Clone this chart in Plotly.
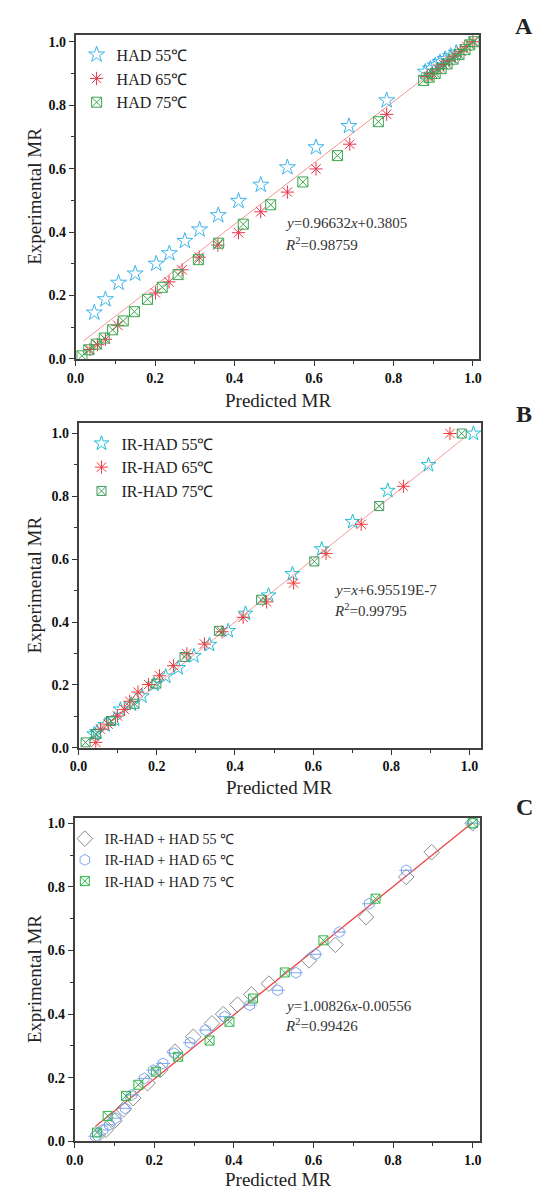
import plotly.graph_objects as go

# ---------------- Panel A (HAD) ----------------
a55_x = [0.047, 0.075, 0.108, 0.150, 0.203, 0.236, 0.275, 0.312, 0.359, 0.410, 0.466, 0.533, 0.605, 0.688, 0.783,
         0.880, 0.893, 0.905, 0.917, 0.930, 0.944, 0.958]
a55_y = [0.146, 0.188, 0.240, 0.269, 0.300, 0.333, 0.372, 0.408, 0.453, 0.498, 0.549, 0.604, 0.667, 0.734, 0.815,
         0.905, 0.915, 0.925, 0.935, 0.945, 0.955, 0.965]
a65_x = [0.036, 0.055, 0.075, 0.106, 0.201, 0.235, 0.268, 0.311, 0.358, 0.410, 0.466, 0.533, 0.605, 0.690, 0.783,
         0.885, 0.898, 0.912, 0.926, 0.940, 0.955, 0.970, 0.985, 1.000]
a65_y = [0.030, 0.045, 0.062, 0.106, 0.208, 0.243, 0.281, 0.321, 0.359, 0.398, 0.464, 0.526, 0.599, 0.677, 0.771,
         0.890, 0.900, 0.915, 0.928, 0.940, 0.955, 0.970, 0.985, 1.000]
a75_x = [0.016, 0.033, 0.052, 0.072, 0.093, 0.120, 0.148, 0.181, 0.218, 0.258, 0.309, 0.360, 0.422, 0.491, 0.572,
         0.659, 0.762, 0.876, 0.890, 0.905, 0.920, 0.935, 0.950, 0.965, 0.980, 0.992, 1.003]
a75_y = [0.010, 0.029, 0.047, 0.066, 0.092, 0.120, 0.149, 0.188, 0.226, 0.266, 0.313, 0.365, 0.425, 0.486, 0.558,
         0.641, 0.748, 0.878, 0.888, 0.900, 0.915, 0.930, 0.945, 0.960, 0.975, 0.990, 1.000]
a_fit = [0.96632, 0.038]
a_fit_x = [0.02, 1.0]

# ---------------- Panel B (IR-HAD) ----------------
b55_x = [0.040, 0.047, 0.068, 0.092, 0.107, 0.135, 0.162, 0.193, 0.223, 0.255, 0.295, 0.335, 0.383, 0.427, 0.486,
         0.547, 0.622, 0.701, 0.791, 0.895, 1.010]
b55_y = [0.043, 0.050, 0.072, 0.090, 0.122, 0.138, 0.164, 0.201, 0.227, 0.254, 0.292, 0.328, 0.372, 0.427, 0.485,
         0.553, 0.632, 0.719, 0.818, 0.900, 1.000]
b65_x = [0.044, 0.056, 0.0755, 0.0995, 0.117, 0.131, 0.152, 0.179, 0.207, 0.243, 0.277, 0.322, 0.367, 0.421, 0.481,
         0.550, 0.633, 0.723, 0.831, 0.950]
b65_y = [0.017, 0.059, 0.075, 0.101, 0.122, 0.148, 0.177, 0.201, 0.229, 0.261, 0.299, 0.330, 0.369, 0.415, 0.464,
         0.524, 0.618, 0.711, 0.832, 1.000]
b75_x = [0.018, 0.045, 0.083, 0.143, 0.199, 0.271, 0.359, 0.467, 0.603, 0.769, 0.980]
b75_y = [0.017, 0.043, 0.085, 0.140, 0.204, 0.289, 0.372, 0.471, 0.593, 0.769, 1.000]
b_fit = [1.0, 6.95519e-7]
b_fit_x = [0.015, 0.985]

# ---------------- Panel C (IR-HAD + HAD) ----------------
c55_x = [0.058, 0.078, 0.100, 0.123, 0.147, 0.183, 0.215, 0.252, 0.298, 0.345, 0.373, 0.409, 0.444, 0.488, 0.589,
         0.655, 0.732, 0.833, 0.897, 1.000]
c55_y = [0.020, 0.036, 0.065, 0.101, 0.136, 0.183, 0.225, 0.282, 0.329, 0.371, 0.400, 0.430, 0.462, 0.496, 0.569,
         0.618, 0.705, 0.831, 0.909, 1.000]
c65_x = [0.052, 0.071, 0.087, 0.103, 0.127, 0.143, 0.175, 0.198, 0.222, 0.250, 0.290, 0.329, 0.377, 0.440, 0.510,
         0.556, 0.605, 0.665, 0.740, 0.833, 1.000]
c65_y = [0.016, 0.036, 0.052, 0.073, 0.104, 0.146, 0.198, 0.224, 0.245, 0.277, 0.310, 0.350, 0.392, 0.428, 0.475,
         0.530, 0.588, 0.658, 0.747, 0.852, 1.000]
c75_x = [0.056, 0.083, 0.129, 0.160, 0.204, 0.260, 0.339, 0.389, 0.448, 0.528, 0.625, 0.756, 1.000]
c75_y = [0.028, 0.080, 0.143, 0.178, 0.219, 0.266, 0.317, 0.376, 0.449, 0.531, 0.632, 0.763, 1.000]
c_fit = [1.00826, -0.00556]
c_fit_x = [0.052, 1.0]

W, H = 543, 1198
SERIF = "Liberation Serif, Times New Roman, serif"

def px(xp):
    return xp / W

def py(yp):
    return 1 - yp / H

fig = go.Figure()

def fit_trace(xs, coef, color, width, xa, ya):
    ys = [coef[0] * v + coef[1] for v in xs]
    return go.Scatter(x=xs, y=ys, mode="lines", line=dict(color=color, width=width),
                      showlegend=False, hoverinfo="skip", xaxis=xa, yaxis=ya)

def pts(xs, ys, name, symbol, color, size, xa, ya, legend, show=True, lw=1.0):
    return go.Scatter(x=xs, y=ys, mode="markers", name=name,
                      marker=dict(symbol=symbol, size=size, color=color,
                                  line=dict(color=color, width=lw)),
                      xaxis=xa, yaxis=ya, legend=legend, showlegend=show)

# Panel A
fig.add_trace(fit_trace(a_fit_x, a_fit, "#f59595", 1, "x", "y"))
fig.add_trace(pts(a55_x, a55_y, "HAD 55℃", "star-open", "#3db4e8", 12, "x", "y", "legend"))
fig.add_trace(pts(a65_x, a65_y, "HAD 65℃", "asterisk-open", "#e6344e", 11, "x", "y", "legend"))
fig.add_trace(pts(a75_x, a75_y, "HAD 75℃", "square-x-open", "#3aa84e", 10, "x", "y", "legend"))

# Panel B
fig.add_trace(fit_trace(b_fit_x, b_fit, "#f59a9a", 1, "x2", "y2"))
fig.add_trace(pts(b55_x, b55_y, "IR-HAD 55℃", "star-open", "#1ebfd2", 11, "x2", "y2", "legend2"))
fig.add_trace(pts(b65_x, b65_y, "IR-HAD 65℃", "asterisk-open", "#f23a3a", 11, "x2", "y2", "legend2"))
fig.add_trace(pts(b75_x, b75_y, "IR-HAD 75℃", "square-x-open", "#3d9c5c", 9, "x2", "y2", "legend2"))

# Panel C
fig.add_trace(fit_trace(c_fit_x, c_fit, "#ef4545", 1.3, "x3", "y3"))
fig.add_trace(pts(c55_x, c55_y, "IR-HAD + HAD 55 ℃", "diamond-open", "#8c8c8c", 12, "x3", "y3", "legend3"))
fig.add_trace(pts(c65_x, c65_y, "IR-HAD + HAD 65 ℃", "hexagon-open", "#7ea6ef", 11, "x3", "y3", "legend3"))
fig.add_trace(pts(c65_x, c65_y, "IR-HAD + HAD 65 ℃", "line-ew-open", "#7ea6ef", 10, "x3", "y3", "legend3", show=False))
fig.add_trace(pts(c75_x, c75_y, "IR-HAD + HAD 75 ℃", "square-x-open", "#2fb84a", 9, "x3", "y3", "legend3"))

tick_vals = [0.0, 0.2, 0.4, 0.6, 0.8, 1.0]
tick_text = ["0.0", "0.2", "0.4", "0.6", "0.8", "1.0"]

def axis(domain, rng, anchor):
    return dict(domain=domain, range=rng, anchor=anchor,
                tickmode="array", tickvals=tick_vals, ticktext=tick_text,
                ticks="outside", ticklen=5, tickwidth=1.2, tickcolor="#333",
                minor=dict(ticks="outside", ticklen=3, tickwidth=1, tickcolor="#333", dtick=0.1, tick0=0),
                showline=True, linecolor="#404040", linewidth=1.6, mirror=True,
                showgrid=False, zeroline=False,
                tickfont=dict(family=SERIF, size=14, color="#111", weight="bold"))

fig.update_layout(
    width=W, height=H, margin=dict(l=0, r=0, t=0, b=0),
    paper_bgcolor="white", plot_bgcolor="white",
    xaxis=axis([px(68), px(480)], [0, 1.016], "y"),
    yaxis=axis([py(360), py(33)], [0, 1.022], "x"),
    xaxis2=axis([px(71), px(482)], [0, 1.03], "y2"),
    yaxis2=axis([py(752), py(425)], [0, 1.032], "x2"),
    xaxis3=axis([px(67), px(481)], [0, 1.019], "y3"),
    yaxis3=axis([py(1149), py(822.7)], [0, 1.017], "x3"),
    legend=dict(x=px(69), y=py(36), xanchor="left", yanchor="top", bgcolor="rgba(0,0,0,0)",
                font=dict(family=SERIF, size=16, color="#222"), tracegroupgap=0),
    legend2=dict(x=px(74), y=py(428), xanchor="left", yanchor="top", bgcolor="rgba(0,0,0,0)",
                 font=dict(family=SERIF, size=16, color="#222"), tracegroupgap=0),
    legend3=dict(x=px(57), y=py(828), xanchor="left", yanchor="top", bgcolor="rgba(0,0,0,0)",
                 font=dict(family=SERIF, size=14, color="#222"), tracegroupgap=0),
)

ann = []
def text(x, y, s, size, anchor="center", angle=0, color="#222"):
    ann.append(dict(x=px(x), y=py(y), xref="paper", yref="paper", text=s, showarrow=False,
                    xanchor=anchor, yanchor="middle", textangle=angle,
                    font=dict(family=SERIF, size=size, color=color)))

# panel letters
text(526, 24, "<b>A</b>", 24)
text(526, 415, "<b>B</b>", 24)
text(526, 812, "<b>C</b>", 24)
# x titles
text(275, 402, "Predicted MR", 19)
text(276, 792, "Predicted MR", 19)
text(275, 1187, "Predicted MR", 19)
# y titles
text(26, 196, "Experimental MR", 19, angle=-90)
text(26, 588, "Experimental MR", 19, angle=-90)
text(26, 985, "Exprimental MR", 19, angle=-90)
# equations
text(280, 223, "<i>y</i>=0.96632<i>x</i>+0.3805", 15, anchor="left", color="#333")
text(280, 244, "<i>R</i><sup>2</sup>=0.98759", 15, anchor="left", color="#333")
text(330, 593, "<i>y</i>=<i>x</i>+6.95519E-7", 15, anchor="left", color="#333")
text(330, 613, "<i>R</i><sup>2</sup>=0.99795", 15, anchor="left", color="#333")
text(280, 1012, "<i>y</i>=1.00826<i>x</i>-0.00556", 15, anchor="left", color="#333")
text(280, 1032, "<i>R</i><sup>2</sup>=0.99426", 15, anchor="left", color="#333")
fig.update_layout(annotations=ann)

fig.write_html("out.html", config={"displayModeBar": False},
               post_script="document.body.style.margin='0px';document.body.style.padding='0px';")
